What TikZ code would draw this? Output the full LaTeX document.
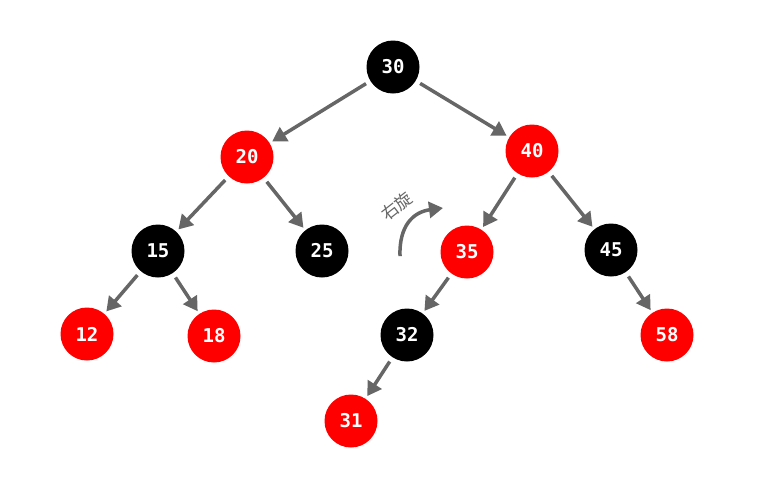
\documentclass[tikz,border=0pt]{standalone}
\usepackage{fontspec}
\setmonofont{DejaVu Sans Mono}
\newfontfamily\cjk{Noto Sans CJK SC}
\usepackage{xcolor}
\usetikzlibrary{arrows.meta}
\definecolor{rbred}{HTML}{FF0000}
\definecolor{edgegray}{HTML}{666666}

\begin{document}
\begin{tikzpicture}[
  x=1pt, y=-1pt,
  rbnode/.style={circle, minimum size=53pt, inner sep=0pt, text=white, font=\ttfamily\bfseries\fontsize{19}{19}\selectfont},
  redn/.style={rbnode, fill=rbred},
  blackn/.style={rbnode, fill=black},
  edge/.style={-{Triangle[length=14pt, width=16pt]}, line width=3.5pt, draw=edgegray, shorten <=5pt, shorten >=3pt}
]
\useasboundingbox (0,0) rectangle (769,496);

\node[blackn] (n30) at (393,67) {30};
\node[redn] (n20) at (247,157) {20};
\node[redn] (n40) at (532,151) {40};
\node[blackn] (n15) at (158,251) {15};
\node[blackn] (n25) at (322,251) {25};
\node[redn] (n35) at (467,252) {35};
\node[blackn] (n45) at (611,250) {45};
\node[redn] (n12) at (87,334) {12};
\node[redn] (n18) at (214,336) {18};
\node[blackn] (n32) at (407,335) {32};
\node[redn] (n58) at (667,335) {58};
\node[redn] (n31) at (351,421) {31};

\draw[edge] (n30) -- (n20);
\draw[edge] (n30) -- (n40);
\draw[edge] (n20) -- (n15);
\draw[edge] (n20) -- (n25);
\draw[edge] (n40) -- (n35);
\draw[edge] (n40) -- (n45);
\draw[edge] (n15) -- (n12);
\draw[edge] (n15) -- (n18);
\draw[edge] (n35) -- (n32);
\draw[edge] (n45) -- (n58);
\draw[edge] (n32) -- (n31);

% rotation mark
\coordinate (rotfrom) at (400,256);
\coordinate (rotto) at (443,208);
\draw[edge, shorten <=0pt, shorten >=0pt] (rotfrom) .. controls (399,226) and (413,212) .. (rotto);
\node[rotate=38, text=edgegray, inner sep=0pt, font=\cjk\fontsize{17}{17}\selectfont] (rotlabel) at (397,206) {右旋};
\end{tikzpicture}
\end{document}
